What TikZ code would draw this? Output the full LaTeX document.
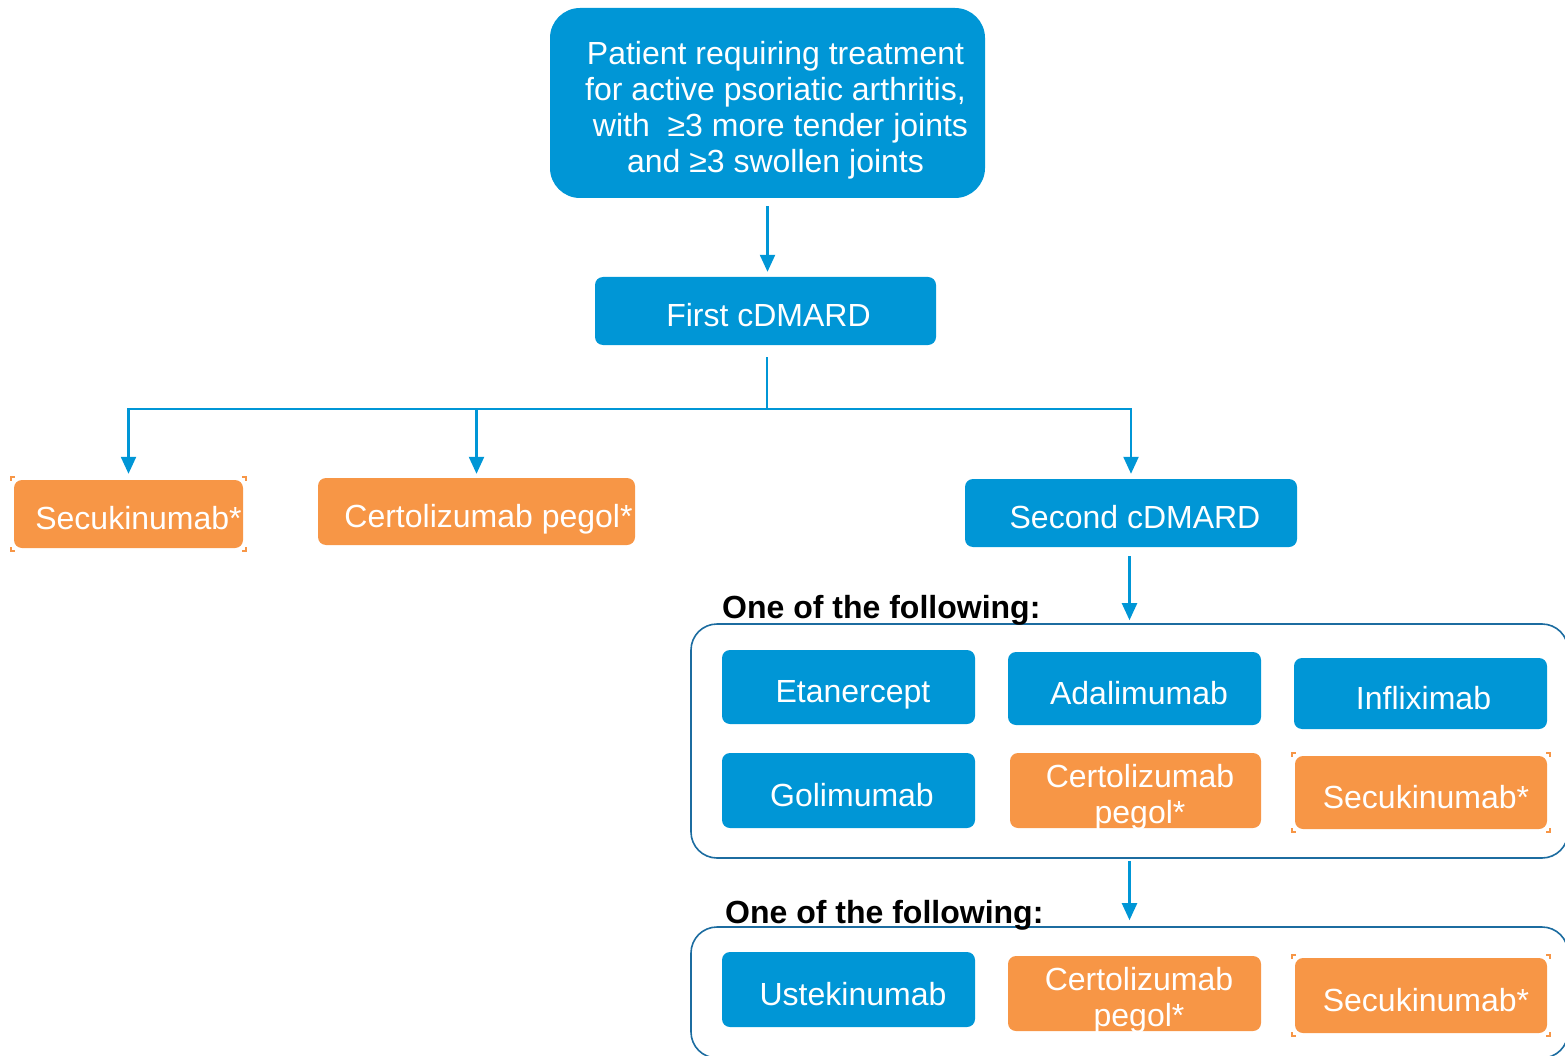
\documentclass[tikz,border=0pt]{standalone}
\usepackage{fontspec}
\setmainfont{Liberation Sans}
\usetikzlibrary{arrows.meta}
\definecolor{pblue}{RGB}{0,150,214}
\definecolor{porange}{RGB}{247,150,70}
\definecolor{pframe}{RGB}{28,108,160}
\newcommand\lowered[2]{\raisebox{-#1}[\height][\depth]{#2}}
\newcommand\cornermarks[1]{%
  \draw[marks] ([shift={(-3,1)}]#1.north west) -- ++(0,-4) -- ++(4,0);
  \draw[marks] ([shift={(-1,-3)}]#1.north east) -- ++(4,0) -- ++(0,4);
  \draw[marks] ([shift={(3,-1)}]#1.south east) -- ++(0,4) -- ++(-4,0);
  \draw[marks] ([shift={(1,3)}]#1.south west) -- ++(-4,0) -- ++(0,-4);}
\begin{document}
\begin{tikzpicture}[x=1pt,y=-1pt,
  every node/.style={font=\fontsize{32}{36}\selectfont, text=white, inner sep=0pt},
  one/.style={text height=31pt, text depth=0pt},
  nudge/.style={execute at begin node={\hspace*{#1}}},
  bluebox/.style={fill=pblue, rounded corners=8pt},
  orangebox/.style={fill=porange, rounded corners=8pt},
  container/.style={draw=pframe, line width=1.6pt, rounded corners=26pt},
  heading/.style={text=black, font=\fontsize{32}{36}\selectfont\bfseries, anchor=west},
  arrow/.style={draw=pblue, line width=2.3pt, -{Triangle[width=15pt,length=17pt]}},
  link/.style={draw=pblue, line width=1.3pt},
  marks/.style={draw=porange, line width=1.6pt}
]
\useasboundingbox (0,0) rectangle (1565,1056);

% top and first level
\node[bluebox, rounded corners=30pt, minimum width=435pt, minimum height=190pt, nudge=16pt] (top) at (767.5,103)
  {\lowered{8pt}{\begin{tabular}{@{}c@{}}Patient requiring treatment\\for active psoriatic arthritis,\\\hspace*{10pt}with \ ≥3 more tender joints\\and ≥3 swollen joints\end{tabular}}};
\node[bluebox, one, minimum width=341pt, minimum height=68pt, nudge=6pt] (first) at (765.5,311) {First cDMARD};

\node[orangebox, one, minimum width=229pt, minimum height=68pt, nudge=20pt] (sec1) at (128.5,514) {Secukinumab*};
\node[orangebox, one, minimum width=317pt, minimum height=67pt, nudge=24pt] (cert1) at (476.5,511.5) {Certolizumab pegol*};
\node[bluebox, one, minimum width=332pt, minimum height=68pt, nudge=8pt] (second) at (1131,513) {Second cDMARD};
\cornermarks{sec1}

% first group
\node[container, minimum width=877pt, minimum height=234pt] (group1) at (1129.5,741) {};
\node[heading] (head1) at (722,609.8) {One of the following:};
\node[bluebox, one, minimum width=253pt, minimum height=74pt, nudge=9pt] (etan) at (848.5,687) {Etanercept};
\node[bluebox, one, minimum width=253pt, minimum height=73pt, nudge=9pt] (adal) at (1134.5,688.5) {Adalimumab};
\node[bluebox, one, minimum width=253pt, minimum height=71pt, nudge=6pt] (infl) at (1420.5,693.5) {Infliximab};
\node[bluebox, one, minimum width=253pt, minimum height=75pt, nudge=7pt] (goli) at (848.5,790.5) {Golimumab};
\node[orangebox, minimum width=251pt, minimum height=75pt, nudge=9pt] (cert2) at (1135.5,790.5)
  {\lowered{8pt}{\begin{tabular}{@{}c@{}}Certolizumab\\pegol*\end{tabular}}};
\node[orangebox, one, minimum width=252pt, minimum height=73pt, nudge=10pt] (sec2) at (1421,792.5) {Secukinumab*};
\cornermarks{sec2}

% second group
\node[container, minimum width=877pt, minimum height=131pt] (group2) at (1129.5,992.5) {};
\node[heading] (head2) at (725,915) {One of the following:};
\node[bluebox, one, minimum width=253pt, minimum height=75pt, nudge=9pt] (uste) at (848.5,989.5) {Ustekinumab};
\node[orangebox, minimum width=253pt, minimum height=75pt, nudge=9pt] (cert3) at (1134.5,993.5)
  {\lowered{8pt}{\begin{tabular}{@{}c@{}}Certolizumab\\pegol*\end{tabular}}};
\node[orangebox, one, minimum width=252pt, minimum height=75pt, nudge=10pt] (sec3) at (1421,995.5) {Secukinumab*};
\cornermarks{sec3}

% connectors
\coordinate (split) at (767,409);
\draw[arrow] ([yshift=-8pt]top.south) -- ([yshift=5pt]top.south |- first.north);
\draw[link] ([yshift=-12pt]first.south -| split) -- (split);
\draw[arrow] (split) -| ([yshift=6pt]sec1.north);
\draw[arrow] (split) -| ([yshift=4pt]cert1.north);
\draw[arrow] (split) -| ([yshift=5pt]second.north);
\draw[arrow] ([yshift=-9pt]second.south -| group1.north) -- ([yshift=3pt]group1.north);
\draw[arrow] ([yshift=-2pt]group1.south) -- ([yshift=6pt]group2.north);
\end{tikzpicture}
\end{document}
